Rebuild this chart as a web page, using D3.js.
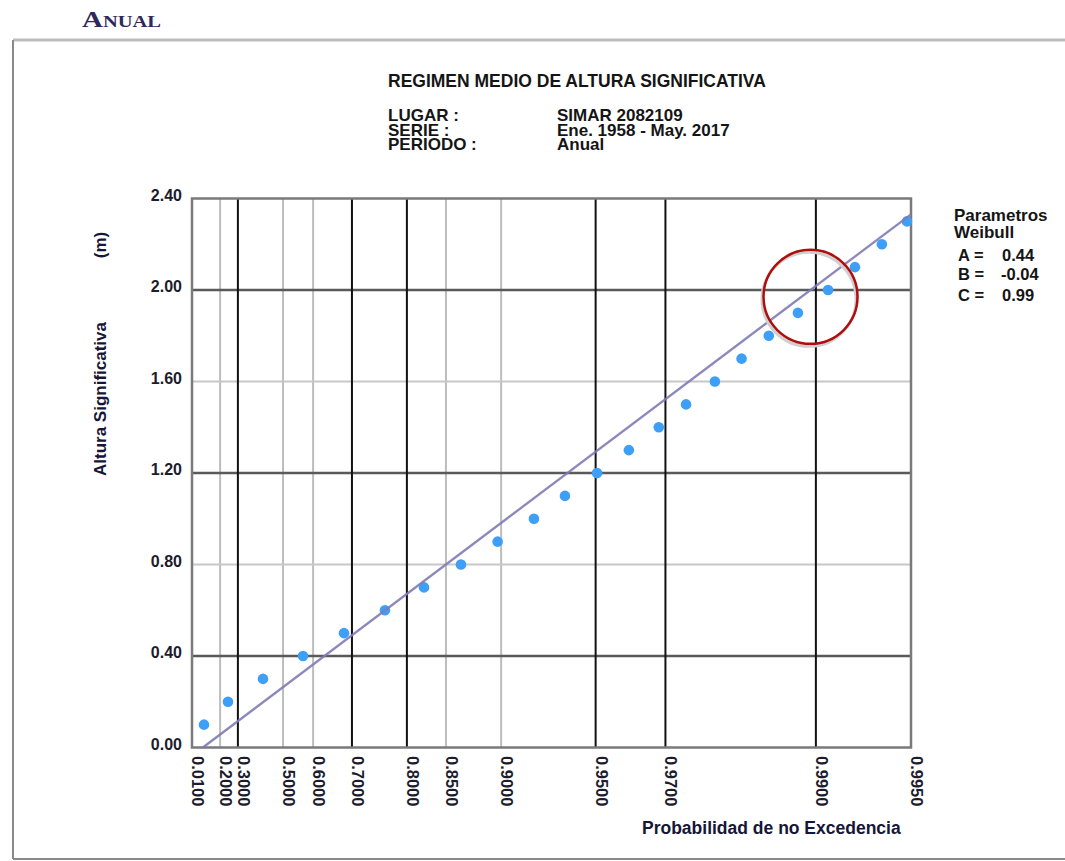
<!DOCTYPE html>
<html>
<head>
<meta charset="utf-8">
<script src="https://cdn.jsdelivr.net/npm/d3@7"></script>
<style>
  html, body { margin: 0; padding: 0; background: #fff; }
  svg { display: block; }
</style>
</head>
<body>
<svg id="chart" width="1065" height="861"></svg>
<script>
// ---------------- DATA ----------------
const pageHeading = "Anual";
const chartTitle = "REGIMEN MEDIO DE ALTURA SIGNIFICATIVA";
const infoLabels = ["LUGAR :", "SERIE :", "PERIODO :"];
const infoValues = ["SIMAR 2082109", "Ene. 1958 - May. 2017", "Anual"];

// Significant wave height (m) of each plotted point
const hsValues = [0.1, 0.2, 0.3, 0.4, 0.5, 0.6, 0.7, 0.8, 0.9, 1.0, 1.1, 1.2,
                  1.3, 1.4, 1.5, 1.6, 1.7, 1.8, 1.9, 2.0, 2.1, 2.2, 2.3];
// Non-exceedance probability of each point
const probValues = [0.0967, 0.246, 0.4196, 0.569, 0.6818, 0.7649, 0.8237, 0.8657,
                    0.8974, 0.9214, 0.9374, 0.9505, 0.9608, 0.9685, 0.9742, 0.9791,
                    0.9828, 0.9859, 0.9886, 0.99085, 0.99248, 0.99382, 0.99485];

// Weibull parameters
const paramNames = ["A =", "B =", "C ="];
const paramValues = [0.44, -0.04, 0.99];
const paramLabels = ["0.44", "-0.04", "0.99"];

// Axes
const xTickValues = [0.01, 0.2, 0.3, 0.5, 0.6, 0.7, 0.8, 0.85, 0.9, 0.95, 0.97, 0.99, 0.995];
const xTickLabels = ["0.0100", "0.2000", "0.3000", "0.5000", "0.6000", "0.7000", "0.8000",
                     "0.8500", "0.9000", "0.9500", "0.9700", "0.9900", "0.9950"];
const xMajorTicks = [0.3, 0.7, 0.8, 0.95, 0.97, 0.99];
const xMinorTicks = [0.2, 0.5, 0.6, 0.85, 0.9];
const yTickValues = [0, 0.4, 0.8, 1.2, 1.6, 2.0, 2.4];
const yTickLabels = ["0.00", "0.40", "0.80", "1.20", "1.60", "2.00", "2.40"];
const yMajorTicks = [0.4, 1.2, 2.0];
const yMinorTicks = [0.8, 1.6];
const xAxisTitle = "Probabilidad de no Excedencia";
const yAxisTitle = "Altura Significativa";
const yAxisUnit = "(m)";
const legendTitle = ["Parametros", "Weibull"];

// Highlight annotation (data coordinates)
const highlightP = 0.9896;
const highlightHs = 1.97;

// ---------------- CHART ----------------
const [A, B, C] = paramValues;
const svg = d3.select("#chart");
const font = "'Liberation Sans', Arial, Helvetica, sans-serif";

// Weibull probability paper transform
const tr = p => Math.pow(-Math.log(1 - p), 1 / C);

const x = d3.scaleLinear()
  .domain([tr(xTickValues[0]), tr(xTickValues[xTickValues.length - 1])])
  .range([192, 911]);
const xp = p => x(tr(p));
const y = d3.scaleLinear().domain([0, 2.4]).range([747.5, 198.5]);

// Page frame
svg.append("line").attr("x1", 13).attr("x2", 1065).attr("y1", 40).attr("y2", 40)
  .attr("stroke", "#bdbdbd").attr("stroke-width", 3);
svg.append("line").attr("x1", 13).attr("x2", 13).attr("y1", 40).attr("y2", 859)
  .attr("stroke", "#8a8a8a").attr("stroke-width", 2);
svg.append("line").attr("x1", 13).attr("x2", 1065).attr("y1", 859).attr("y2", 859)
  .attr("stroke", "#8a8a8a").attr("stroke-width", 2);

// Heading
svg.append("text")
  .attr("x", 82).attr("y", 27)
  .attr("font-family", "'Liberation Serif', 'DejaVu Serif', serif")
  .attr("font-size", 24)
  .attr("font-weight", "bold")
  .attr("font-variant", "small-caps")
  .attr("fill", "#2d2a5a")
  .attr("textLength", 79).attr("lengthAdjust", "spacingAndGlyphs")
  .text(pageHeading);

// Title block
svg.append("text").attr("x", 388).attr("y", 87)
  .attr("font-family", font).attr("font-weight", "bold").attr("font-size", 17.5)
  .attr("fill", "#151515").text(chartTitle);

const infoY = [121, 136, 150];
infoLabels.forEach((t, i) => {
  svg.append("text").attr("x", 388).attr("y", infoY[i])
    .attr("font-family", font).attr("font-weight", "bold").attr("font-size", 17)
    .attr("fill", "#151515").text(t);
  svg.append("text").attr("x", 557).attr("y", infoY[i])
    .attr("font-family", font).attr("font-weight", "bold").attr("font-size", 17)
    .attr("fill", "#151515").text(infoValues[i]);
});

// Grid
const gGrid = svg.append("g");
gGrid.selectAll(".vmin").data(xMinorTicks).join("line")
  .attr("x1", d => xp(d)).attr("x2", d => xp(d))
  .attr("y1", y(2.4)).attr("y2", y(0))
  .attr("stroke", "#bdbdbd").attr("stroke-width", 2);
gGrid.selectAll(".hmin").data(yMinorTicks).join("line")
  .attr("x1", x.range()[0]).attr("x2", x.range()[1])
  .attr("y1", d => y(d)).attr("y2", d => y(d))
  .attr("stroke", "#c8c8c8").attr("stroke-width", 2);
gGrid.selectAll(".hmaj").data(yMajorTicks).join("line")
  .attr("x1", x.range()[0]).attr("x2", x.range()[1])
  .attr("y1", d => y(d)).attr("y2", d => y(d))
  .attr("stroke", "#5a5a5a").attr("stroke-width", 2.5);
gGrid.selectAll(".vmaj").data(xMajorTicks).join("line")
  .attr("x1", d => xp(d)).attr("x2", d => xp(d))
  .attr("y1", y(2.4)).attr("y2", y(0))
  .attr("stroke", "#111").attr("stroke-width", 2);

// Plot frame
svg.append("rect")
  .attr("x", x.range()[0]).attr("y", y(2.4))
  .attr("width", x.range()[1] - x.range()[0]).attr("height", y(0) - y(2.4))
  .attr("fill", "none").attr("stroke", "#7a7a7a").attr("stroke-width", 2.5);

// Y tick labels
svg.selectAll(".ytl").data(yTickValues).join("text")
  .attr("x", 182).attr("y", d => y(d) + 2)
  .attr("text-anchor", "end")
  .attr("font-family", font).attr("font-weight", "bold").attr("font-size", 16)
  .attr("fill", "#1c1c2c")
  .text((d, i) => yTickLabels[i]);

// X tick labels (rotated)
svg.selectAll(".xtl").data(xTickValues).join("text")
  .attr("transform", d => `translate(${xp(d)},756) rotate(90)`)
  .attr("text-anchor", "start")
  .attr("font-family", font).attr("font-weight", "bold").attr("font-size", 16.5)
  .attr("fill", "#1c1c2c")
  .text((d, i) => xTickLabels[i]);

// Axis titles
svg.append("text").attr("x", 642).attr("y", 834)
  .attr("font-family", font).attr("font-weight", "bold").attr("font-size", 17.5)
  .attr("fill", "#161636").text(xAxisTitle);
svg.append("text")
  .attr("transform", "translate(106,399) rotate(-90)")
  .attr("text-anchor", "middle")
  .attr("font-family", font).attr("font-weight", "bold").attr("font-size", 17)
  .attr("fill", "#161636").text(yAxisTitle);
svg.append("text")
  .attr("transform", "translate(106,245) rotate(-90)")
  .attr("text-anchor", "middle")
  .attr("font-family", font).attr("font-weight", "bold").attr("font-size", 17)
  .attr("fill", "#161636").text(yAxisUnit);

// Data points
svg.selectAll(".pt").data(hsValues).join("circle")
  .attr("cx", (d, i) => xp(probValues[i]))
  .attr("cy", d => y(d))
  .attr("r", 5.3)
  .attr("fill", "#3d9ff7");

// Weibull fit line: Hs = B + A * (-ln(1-p))^(1/C), straight on this paper
const wStart = -B / A;                       // Hs = 0
const wEnd = tr(xTickValues[xTickValues.length - 1]);
svg.append("line")
  .attr("x1", x(wStart)).attr("y1", y(B + A * wStart))
  .attr("x2", x(wEnd)).attr("y2", y(B + A * wEnd))
  .attr("stroke", "#7f7bb4").attr("stroke-width", 2.3).attr("stroke-opacity", 0.9);

// Highlight circle
const hx = xp(highlightP), hy = y(highlightHs);
svg.append("circle").attr("cx", hx - 1.5).attr("cy", hy + 2.5).attr("r", 47)
  .attr("fill", "none").attr("stroke", "#cfcfcf").attr("stroke-width", 3);
svg.append("circle").attr("cx", hx).attr("cy", hy).attr("r", 47)
  .attr("fill", "none").attr("stroke", "#b00d0d").attr("stroke-width", 2.5);

// Legend
svg.append("text").attr("x", 954).attr("y", 221)
  .attr("font-family", font).attr("font-weight", "bold").attr("font-size", 17)
  .attr("fill", "#151515").text(legendTitle[0]);
svg.append("text").attr("x", 954).attr("y", 238)
  .attr("font-family", font).attr("font-weight", "bold").attr("font-size", 17)
  .attr("fill", "#151515").text(legendTitle[1]);
const legY = [261, 280, 301];
paramNames.forEach((n, i) => {
  svg.append("text").attr("x", 958).attr("y", legY[i])
    .attr("font-family", font).attr("font-weight", "bold").attr("font-size", 16.5)
    .attr("fill", "#151515").text(n);
  svg.append("text").attr("x", paramValues[i] < 0 ? 1001 : 1002).attr("y", legY[i])
    .attr("font-family", font).attr("font-weight", "bold").attr("font-size", 16.5)
    .attr("fill", "#151515").text(paramLabels[i]);
});
</script>
</body>
</html>
